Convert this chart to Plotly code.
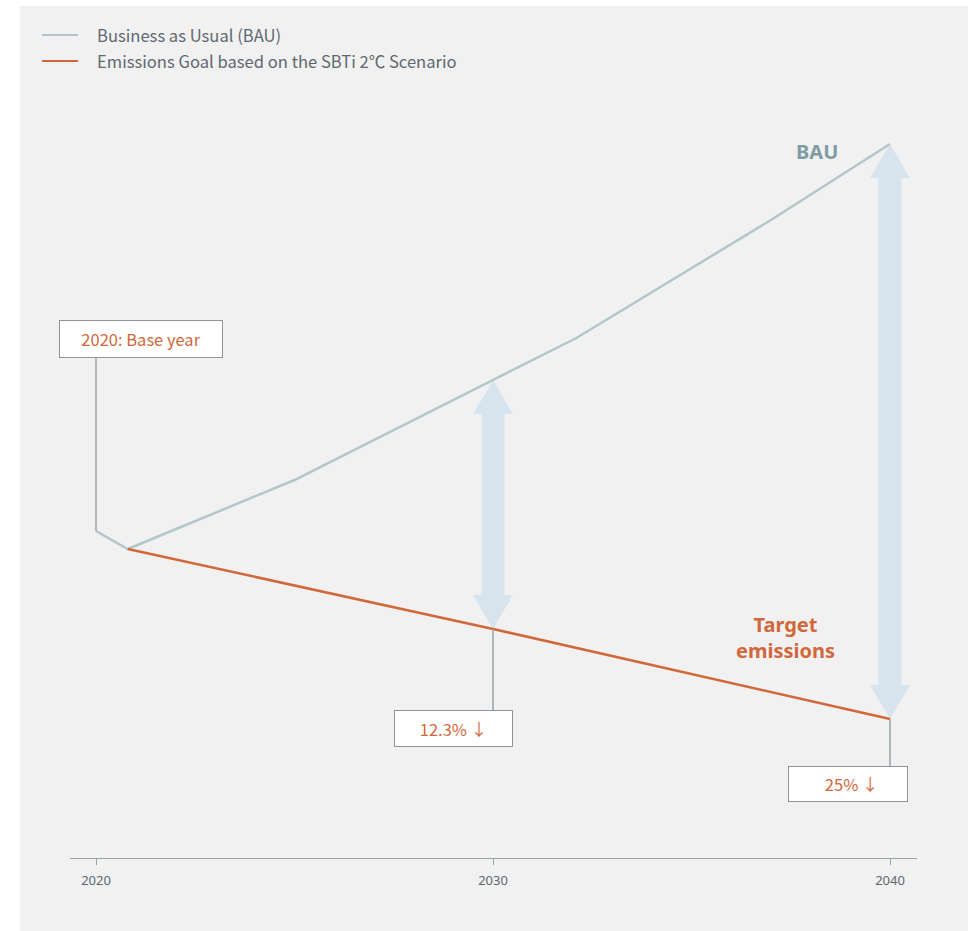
import plotly.graph_objects as go

# ---- data ----
bau_years = [2020, 2020.8, 2025, 2030, 2032.1, 2037, 2040]
bau_values = [32.7, 30.9, 37.8, 47.8, 52.0, 63.8, 71.4]
target_years = [2020.8, 2030, 2040]
target_values = [30.9, 22.9, 13.9]
tick_years = [2020, 2030, 2040]
tick_labels = ["2020", "2030", "2040"]
gap_years = [2030, 2040]
gap_labels = ["12.3% ↓", "  25% ↓"]
base_label = "2020: Base year"
series_names = ["Business as Usual (BAU)", "Emissions Goal based on the SBTi 2℃ Scenario"]

ORANGE = "#d2673a"
BAU_C = "#b3c6c9"
ARROW_C = "#d8e4ed"
GRID_C = "#9aa3a8"
TEXT_C = "#5f6870"
BG = "#f0f1f0"
FONT = "Noto Sans"
KFONT = "Noto Sans CJK KR"

W, H = 968, 931
ML, MR, MT, MB = 70, 51, 100, 73
PW, PH = W - ML - MR, H - MT - MB

def px_x(p):
    return (p - ML) / PW

def px_y(p):
    return (H - MB - p) / PH

def interp(xs, ys, x):
    for i in range(len(xs) - 1):
        if xs[i] <= x <= xs[i + 1]:
            t = (x - xs[i]) / (xs[i + 1] - xs[i])
            return ys[i] + t * (ys[i + 1] - ys[i])
    return ys[-1]

fig = go.Figure()

# double arrows between BAU and target
shaft_hw, head_hw, head_len = 0.29, 0.5, 3.4
for yr in gap_years:
    hi = interp(bau_years, bau_values, yr)
    lo = interp(target_years, target_values, yr)
    px = [yr, yr + head_hw, yr + shaft_hw, yr + shaft_hw, yr + head_hw, yr,
          yr - head_hw, yr - shaft_hw, yr - shaft_hw, yr - head_hw, yr]
    py = [hi, hi - head_len, hi - head_len, lo + head_len, lo + head_len, lo,
          lo + head_len, lo + head_len, hi - head_len, hi - head_len, hi]
    fig.add_trace(go.Scatter(x=px, y=py, fill="toself", fillcolor=ARROW_C,
                             line=dict(width=0), mode="lines", showlegend=False,
                             hoverinfo="skip"))

fig.add_trace(go.Scatter(x=bau_years, y=bau_values, mode="lines",
                         name=series_names[0], showlegend=False,
                         line=dict(color=BAU_C, width=2.5)))
fig.add_trace(go.Scatter(x=target_years, y=target_values, mode="lines",
                         name=series_names[1], showlegend=False,
                         line=dict(color=ORANGE, width=2.5)))

shapes = [
    dict(type="rect", xref="paper", yref="paper", x0=px_x(20), x1=px_x(975),
         y0=px_y(940), y1=px_y(6), fillcolor=BG, line=dict(width=0), layer="below"),
    # base-year connector
    dict(type="line", xref="x", yref="y", x0=2020, x1=2020,
         y0=bau_values[0], y1=50.0, line=dict(color=GRID_C, width=1.5)),
]
box_tops = {2030: 14.8, 2040: 9.2}
for yr in gap_years:
    lo = interp(target_years, target_values, yr)
    shapes.append(dict(type="line", xref="x", yref="y", x0=yr, x1=yr,
                       y0=lo, y1=box_tops[yr],
                       line=dict(color=GRID_C, width=1.5)))

# manual legend
legend_rows = [35, 61]
legend_colors = [BAU_C, ORANGE]
annotations = []
for name, col, row in zip(series_names, legend_colors, legend_rows):
    shapes.append(dict(type="line", xref="paper", yref="paper",
                       x0=px_x(42), x1=px_x(78), y0=px_y(row), y1=px_y(row),
                       line=dict(color=col, width=2)))
    annotations.append(dict(xref="paper", yref="paper", x=px_x(95), y=px_y(row),
                            xanchor="left", yanchor="middle", text=name,
                            showarrow=False,
                            font=dict(family=KFONT, size=16.6, color=TEXT_C)))

annotations += [
    dict(x=2020, y=bau_values[0], xref="x", yref="y", text=base_label,
         showarrow=False, xshift=45, yshift=192, width=154, height=28,
         bgcolor="white", bordercolor="#8e9499", borderwidth=1, borderpad=4,
         font=dict(family=KFONT, size=16.5, color=ORANGE)),
    dict(x=2030, y=interp(target_years, target_values, 2030), xref="x", yref="y",
         text=gap_labels[0], showarrow=False, xshift=-39.5, yshift=-99.5,
         width=109, height=27, bgcolor="white", bordercolor="#8e9499",
         borderwidth=1, borderpad=4, font=dict(family=KFONT, size=16.5, color=ORANGE)),
    dict(x=2040, y=target_values[-1], xref="x", yref="y",
         text=gap_labels[1], showarrow=False, xshift=-42, yshift=-65,
         width=110, height=26, bgcolor="white", bordercolor="#8e9499",
         borderwidth=1, borderpad=4, font=dict(family=KFONT, size=16.5, color=ORANGE)),
    dict(x=2040, y=bau_values[-1], xref="x", yref="y", text="<b>BAU</b>",
         showarrow=False, xshift=-73, yshift=-7,
         font=dict(family=FONT, size=20, color="#7f9ca4")),
    dict(x=2040, y=target_values[-1], xref="x", yref="y",
         text="<b>Target<br>emissions</b>", showarrow=False, xshift=-105, yshift=82,
         font=dict(family=FONT, size=20, color=ORANGE)),
]

fig.update_layout(
    width=W, height=H,
    margin=dict(l=ML, r=MR, t=MT, b=MB),
    paper_bgcolor="white", plot_bgcolor=BG,
    font=dict(family=FONT, color=TEXT_C),
    shapes=shapes, annotations=annotations,
    showlegend=False,
    xaxis=dict(range=[2019.345, 2040.68], tickvals=tick_years, ticktext=tick_labels,
               showgrid=False, zeroline=False, showline=True, linecolor=GRID_C,
               linewidth=1, ticks="outside", ticklen=6, tickcolor=GRID_C,
               ticklabelstandoff=4,
               tickfont=dict(size=13, color=TEXT_C), fixedrange=True),
    yaxis=dict(range=[0, 75.8], visible=False, fixedrange=True),
)

fig.write_html("out.html")
